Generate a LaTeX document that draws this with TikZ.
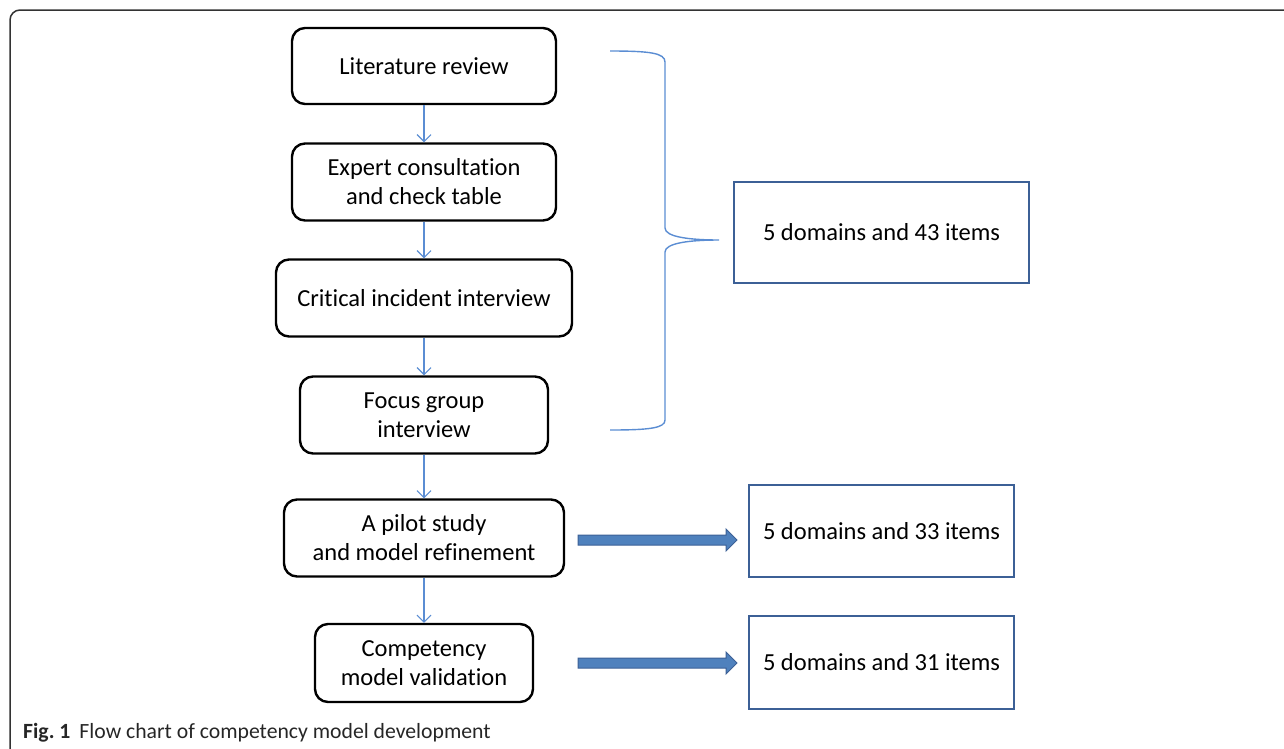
\documentclass[tikz,border=0pt]{standalone}
\usepackage{fontspec}
\setmainfont[Ligatures=NoCommon]{Carlito}
\usetikzlibrary{arrows.meta}
\definecolor{thinblue}{HTML}{5B8DD3}
\definecolor{boxblue}{HTML}{3C6096}
\definecolor{fillblue}{HTML}{4F81BD}
\definecolor{framegray}{HTML}{333333}
\tikzset{
  stepbox/.style={draw=black, line width=2.4pt, rounded corners=13pt, align=center, inner sep=0pt,
    font=\fontsize{24.5}{29}\selectfont},
  resbox/.style={draw=boxblue, line width=2.6pt, align=center, inner sep=0pt,
    font=\fontsize{24.5}{29}\selectfont},
  flow/.style={draw=thinblue, line width=1.1pt, -{Straight Barb[length=7pt,width=14pt,line width=1.1pt]}},
  bigarrow/.style={fill=fillblue, draw=boxblue, line width=1pt, line join=miter},
  brace/.style={draw=thinblue, line width=1.4pt}
}
\begin{document}
\begin{tikzpicture}[x=1pt,y=-1pt]
\useasboundingbox (0,0) rectangle (1284,748);
% outer frame
\draw[framegray, line width=1.5pt] (10,760) -- (10,20) arc[start angle=180, end angle=270, radius=10] -- (1290,10);

% flow steps
\node[stepbox, minimum width=264pt, minimum height=76pt] (s1) at (424,66) {Literature review};
\node[stepbox, minimum width=264pt, minimum height=77pt] (s2) at (424,182) {Expert consultation\\and check table};
\node[stepbox, minimum width=296pt, minimum height=77pt] (s3) at (424,298) {Critical incident interview};
\node[stepbox, minimum width=248pt, minimum height=77pt] (s4) at (424,415) {Focus group\\interview};
\node[stepbox, minimum width=280pt, minimum height=77pt] (s5) at (424,538) {A pilot study\\and model refinement};
\node[stepbox, minimum width=218pt, minimum height=78pt] (s6) at (424,663) {Competency\\model validation};

\draw[flow] (s1) -- (s2);
\draw[flow] (s2) -- (s3);
\draw[flow] (s3) -- (s4);
\draw[flow] (s4) -- (s5);
\draw[flow] (s5) -- (s6);

% result boxes
\node[resbox, minimum width=295pt, minimum height=101pt] (r1) at (881.5,232.5) {5 domains and 43 items};
\node[resbox, minimum width=265pt, minimum height=92pt] (r2) at (881.5,531) {5 domains and 33 items};
\node[resbox, minimum width=265pt, minimum height=93pt] (r3) at (881.5,662.5) {5 domains and 31 items};

% brace
\coordinate (btop) at (610,51);
\coordinate (btip) at (719,240);
\coordinate (bbot) at (610,430);
\draw[brace] (btop) .. controls (650,51) and (665,53) .. (665,62) -- (665,228)
  .. controls (665,237) and (690,240) .. (btip)
  .. controls (690,240) and (665,243) .. (665,252) -- (665,420)
  .. controls (665,428) and (650,430) .. (bbot);

% block arrows
\draw[bigarrow] (578,535) -- (726,535) -- (726,529) -- (737,540) -- (726,551) -- (726,545) -- (578,545) -- cycle;
\draw[bigarrow] (578,658) -- (726,658) -- (726,652) -- (737,663) -- (726,674) -- (726,668) -- (578,668) -- cycle;

% caption
\node[anchor=base west, inner sep=0pt, font=\fontsize{21.7}{26}\selectfont, text=black!85] (cap) at (23,738)
  {\textbf{Fig.~1}\hspace{9pt}Flow chart of competency model development};
\end{tikzpicture}
\end{document}
